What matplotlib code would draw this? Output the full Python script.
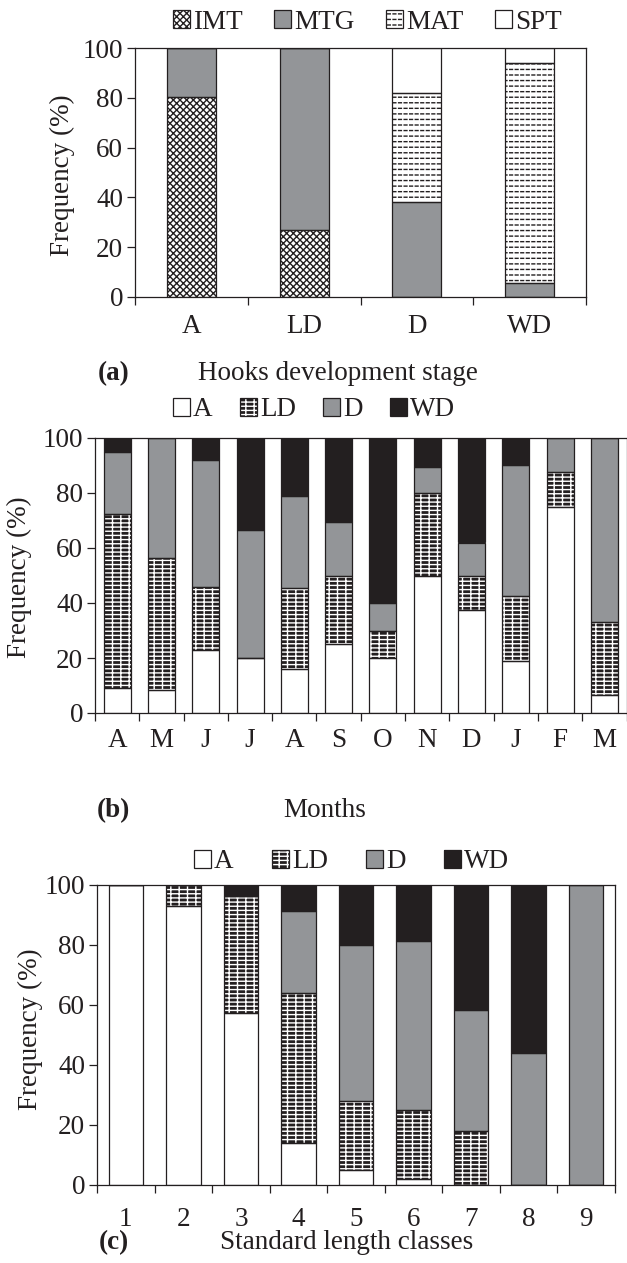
import matplotlib
matplotlib.use('Agg')
import matplotlib.pyplot as plt
import numpy as np
from matplotlib.patches import Patch
from matplotlib.legend_handler import HandlerTuple

plt.rcParams['font.family'] = ['Liberation Serif', 'DejaVu Serif']
plt.rcParams['hatch.linewidth'] = 1.0

# ---------------- data ----------------
# (a) hooks development stage
stages = ['A', 'LD', 'D', 'WD']
a_names = ['IMT', 'MTG', 'MAT', 'SPT']
a_IMT = [80.5, 27.0, 0.0, 0.0]
a_MTG = [19.5, 73.0, 38.0, 5.5]
a_MAT = [0.0, 0.0, 44.0, 88.5]
a_SPT = [0.0, 0.0, 18.0, 6.0]

# (b) months
months = ['A', 'M', 'J', 'J', 'A', 'S', 'O', 'N', 'D', 'J', 'F', 'M']
bc_names = ['A', 'LD', 'D', 'WD']
b_A = [9.0, 8.5, 23.0, 20.0, 16.0, 25.0, 20.0, 50.0, 37.5, 19.0, 75.0, 6.5]
b_LD = [63.5, 48.0, 23.0, 0.0, 29.5, 25.0, 10.0, 30.0, 12.5, 23.5, 12.5, 26.5]
b_D = [22.5, 43.5, 46.0, 46.5, 33.5, 19.5, 10.0, 9.5, 12.0, 47.5, 12.5, 67.0]
b_WD = [5.0, 0.0, 8.0, 33.5, 21.0, 30.5, 60.0, 10.5, 38.0, 10.0, 0.0, 0.0]

# (c) standard length classes
classes = ['1', '2', '3', '4', '5', '6', '7', '8', '9']
c_A = [100.0, 93.0, 57.5, 14.0, 5.0, 2.0, 0.0, 0.0, 0.0]
c_LD = [0.0, 7.0, 39.0, 50.0, 23.0, 23.0, 18.0, 0.0, 0.0]
c_D = [0.0, 0.0, 0.0, 27.5, 52.0, 56.5, 40.5, 44.0, 100.0]
c_WD = [0.0, 0.0, 3.5, 8.5, 20.0, 18.5, 41.5, 56.0, 0.0]

# ---------------- styles ----------------
INK = '#231f20'
GRAY = '#939598'
FS = 19.5
W, H = 627, 1263

STY = {
    'IMT': dict(face='white', layers=[('xxxxx', INK)]),
    'MTG': dict(face=GRAY, layers=[]),
    'MAT': dict(face='white', layers=[('---', INK), ('|||', 'white')]),
    'SPT': dict(face='white', layers=[]),
    'A': dict(face='white', layers=[]),
    'LD': dict(face=INK, layers=[('----||', 'white')]),
    'D': dict(face=GRAY, layers=[]),
    'WD': dict(face=INK, layers=[]),
}
EDGE_LW = 0.9

fig = plt.figure(figsize=(W / 100, H / 100), dpi=100)


def px_axes(l, t, r, b):
    return fig.add_axes([l / W, 1 - b / H, (r - l) / W, (b - t) / H])


def draw_stack(ax, series, names, width):
    n = len(series[0])
    x = np.arange(n)
    bottom = np.zeros(n)
    for vals, name in zip(series, names):
        st = STY[name]
        v = np.asarray(vals, float)
        ax.bar(x, v, width, bottom=bottom, color=st['face'], edgecolor='none', linewidth=0, zorder=2)
        for h, c in st['layers']:
            ax.bar(x, v, width, bottom=bottom, facecolor='none', edgecolor=c,
                   linewidth=0, hatch=h, zorder=3)
        ax.bar(x, v, width, bottom=bottom, facecolor='none', edgecolor=INK,
               linewidth=EDGE_LW, zorder=4)
        bottom += v


def style_axes(ax, labels, xpad):
    n = len(labels)
    ax.set_xlim(-0.5, n - 0.5)
    ax.set_ylim(0, 100)
    ax.set_xticks(np.arange(n))
    ax.set_xticklabels(labels)
    ax.set_xticks(np.arange(n + 1) - 0.5, minor=True)
    ax.tick_params(axis='x', which='major', length=0, pad=xpad, labelsize=FS, labelcolor=INK)
    ax.tick_params(axis='x', which='minor', length=5.5, width=0.9, color=INK, direction='out')
    ax.set_yticks(np.arange(0, 101, 20))
    ax.tick_params(axis='y', which='major', length=5.5, width=0.9, color=INK, direction='out',
                   pad=3, labelsize=FS, labelcolor=INK)
    for s in ax.spines.values():
        s.set_linewidth(0.9)
        s.set_color(INK)
        s.set_zorder(5)


def legend(ax, names, cx, cy, colsp):
    handles = []
    for name in names:
        st = STY[name]
        parts = [Patch(facecolor=st['face'], edgecolor='none', linewidth=0)]
        for h, c in st['layers']:
            parts.append(Patch(facecolor='none', edgecolor=c, linewidth=0, hatch=h))
        parts.append(Patch(facecolor='none', edgecolor=INK, linewidth=EDGE_LW))
        handles.append(tuple(parts))
    ax.legend(handles, names, loc='center', bbox_to_anchor=(cx, cy), ncol=len(names),
              frameon=False, fontsize=FS, handlelength=0.63, handleheight=0.63,
              handletextpad=0.12, columnspacing=colsp, borderpad=0, borderaxespad=0,
              labelcolor=INK, handler_map={tuple: HandlerTuple(ndivide=1, pad=0)})


def ftext(x, y, s, **kw):
    fig.text(x / W, 1 - y / H, s, fontsize=FS, color=INK, **kw)


# ---------------- panel (a) ----------------
axa = px_axes(135, 48, 586, 297)
draw_stack(axa, [a_IMT, a_MTG, a_MAT, a_SPT], a_names, 0.435)
style_axes(axa, stages, 12.3)
axa.set_ylabel('Frequency (%)', fontsize=FS, color=INK)
axa.yaxis.set_label_coords(-0.133, 0.49)
legend(axa, a_names, 0.5155, 1.104, 1.15)
ftext(113.5, 380, '(a)', ha='center', va='baseline', fontweight='bold')
ftext(198, 380, 'Hooks development stage', ha='left', va='baseline')

# ---------------- panel (b) ----------------
axb = px_axes(95, 438, 626.5, 713)
draw_stack(axb, [b_A, b_LD, b_D, b_WD], bc_names, 0.61)
style_axes(axb, months, 10.8)
axb.set_ylabel('Frequency (%)', fontsize=FS, color=INK)
axb.yaxis.set_label_coords(-0.1185, 0.495)
legend(axb, bc_names, 0.412, 1.102, 1.0)
ftext(113.5, 817, '(b)', ha='center', va='baseline', fontweight='bold')
ftext(283, 817, 'Months', ha='left', va='baseline')

# ---------------- panel (c) ----------------
axc = px_axes(97, 885, 615, 1185)
draw_stack(axc, [c_A, c_LD, c_D, c_WD], bc_names, 0.6)
style_axes(axc, classes, 15.8)
axc.set_ylabel('Frequency (%)', fontsize=FS, color=INK)
axc.yaxis.set_label_coords(-0.104, 0.52)
legend(axc, bc_names, 0.491, 1.077, 1.4)
ftext(113.5, 1249, '(c)', ha='center', va='baseline', fontweight='bold')
ftext(220, 1249, 'Standard length classes', ha='left', va='baseline')

fig.savefig('out.png', dpi=100, facecolor='white')
